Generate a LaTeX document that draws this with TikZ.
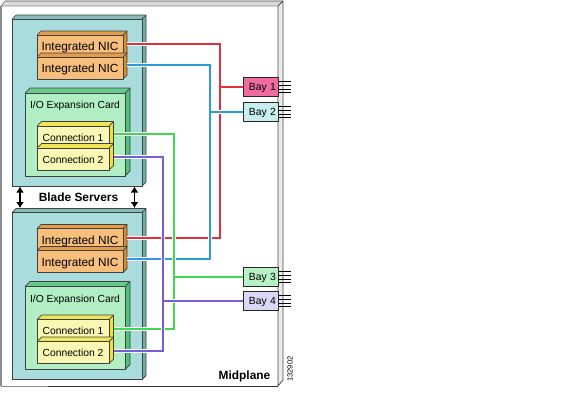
\documentclass[tikz,border=0pt]{standalone}
\usepackage{fontspec}
\setmainfont{Liberation Sans}
\usepackage{xcolor}
\usetikzlibrary{arrows.meta}
\definecolor{bladecol}{HTML}{A9DCDC}
\definecolor{bladeside}{HTML}{6FB0AE}
\definecolor{niccol}{HTML}{F7BE7C}
\definecolor{nicside}{HTML}{E08A2A}
\definecolor{cardcol}{HTML}{B2EEC4}
\definecolor{cardside}{HTML}{4DC27A}
\definecolor{conncol}{HTML}{F8F8B4}
\definecolor{connside}{HTML}{EFE03A}
\definecolor{redline}{HTML}{E0303F}
\definecolor{blueline}{HTML}{2E9AD6}
\definecolor{greenline}{HTML}{3FD84F}
\definecolor{purpleline}{HTML}{7A5CD6}
\definecolor{bayone}{HTML}{F06CA0}
\definecolor{baytwo}{HTML}{C6EEF0}
\definecolor{baythree}{HTML}{B6F0C4}
\definecolor{bayfour}{HTML}{D8D8F6}
\tikzset{
  boxline/.style={draw=black!75, line width=0.7pt, line join=round},
  wire/.style={line width=1.9pt, preaction={draw=white, line width=3.2pt}},
  bay/.style={boxline, draw=black!85, line width=0.9pt, fill=#1, minimum width=35pt, minimum height=19pt, inner sep=0pt, text height=7.5pt, text depth=0pt, text width=31pt, align=right, font=\fontsize{10.4}{10}\selectfont},
  lbl/.style={inner sep=0pt, text height=8.5pt, text depth=0pt, font=\fontsize{11.8}{12}\selectfont},
  lblsmall/.style={inner sep=0pt, text height=7.5pt, text depth=0pt, font=\fontsize{10.3}{11}\selectfont},
  heading/.style={inner sep=0pt, text height=8.5pt, text depth=0pt, font=\fontsize{11.9}{12}\selectfont\bfseries},
  updown/.style={{Latex[length=6pt,width=8pt]}-{Latex[length=6pt,width=8pt]}, line width=1.5pt},
}
% front face from (#1,#2) to (#3,#4), depth #5
\newcommand{\slab}[7]{
  \fill[#7!85!white] (#1,#2) -- ++(#5,-#5) -- (#3+#5,#2-#5) -- (#3,#2) -- cycle;
  \fill[#7] (#3,#2) -- ++(#5,-#5) -- (#3+#5,#4-#5) -- (#3,#4) -- cycle;
  \draw[boxline] (#1,#2) -- ++(#5,-#5) -- (#3+#5,#2-#5) -- (#3+#5,#4-#5) -- (#3,#4);
  \draw[boxline] (#3,#2) -- ++(#5,-#5);
  \draw[boxline, fill=#6] (#1,#2) rectangle (#3,#4);
}
\begin{document}
\begin{tikzpicture}[x=1pt, y=-1pt]
  \useasboundingbox (0,0) rectangle (576,408);
  \fill[white] (0,0) rectangle (576,408);
  % midplane
  \fill[black!8] (278,6) -- (283,1) -- (283,380) -- (278,386) -- cycle;
  \fill[black!14] (1,6) -- (5,1) -- (283,1) -- (278,6) -- cycle;
  \draw[black!70, line width=0.8pt] (5,1) -- (283,1) -- (283,380) -- (278,386) -- (278,6) -- (283,1);
  \draw[black!45, line width=0.8pt] (5,1) -- (1,6) -- (278,6);
  \draw[black!45, line width=1.6pt] (1,6) -- (1,386);
  \draw[black!45, line width=1pt] (1,386) -- (48,386);
  \draw[black!80, line width=0.9pt] (48,386) -- (278,386);
  \foreach \yshift/\blade in {0/a, 193.5/b} {
    \begin{scope}[yshift=-\yshift pt]
      \slab{12}{19}{142}{186}{4}{bladecol}{bladeside}
      \slab{37}{35}{123}{57}{4}{niccol}{nicside}
      \slab{37}{57}{123}{79}{4}{niccol}{nicside}
      \slab{25}{93}{125}{176}{5}{cardcol}{cardside}
      \slab{37}{126}{109}{148}{4.5}{conncol}{connside}
      \slab{37}{148}{109}{170}{4.5}{conncol}{connside}
      \node[lbl] (nicup\blade) at (80,46.5) {Integrated NIC};
      \node[lbl] (nicdown\blade) at (80,68.5) {Integrated NIC};
      \node[lblsmall] (card\blade) at (75,105) {I/O Expansion Card};
      \node[lblsmall] (connup\blade) at (73,137.5) {Connection 1};
      \node[lblsmall] (conndown\blade) at (73,159.5) {Connection 2};
    \end{scope}
  }
  % bays
  \node[bay=bayone] (bayA) at (260.5,87) {Bay 1};
  \node[bay=baytwo] (bayB) at (260.5,112) {Bay 2};
  \node[bay=baythree] (bayC) at (260.5,277) {Bay 3};
  \node[bay=bayfour] (bayD) at (260.5,301) {Bay 4};
  \foreach \bay in {bayA,bayB,bayC,bayD} {
    \foreach \dy in {-5.5,-2,2,5.5} {
      \draw[black, line width=0.6pt] ([yshift=\dy pt]\bay.east) -- ++(13,0);
    }
  }
  % wires
  \coordinate (redenda) at (127,44);
  \coordinate (redendb) at (127,238);
  \coordinate (blueenda) at (127,65);
  \coordinate (blueendb) at (127,259);
  \coordinate (greenenda) at (114,134);
  \coordinate (greenendb) at (114,329);
  \coordinate (purpleenda) at (114,157);
  \coordinate (purpleendb) at (114,351);
  \coordinate (redtrunk) at (220,100);
  \coordinate (bluetrunk) at (210,100);
  \coordinate (greentrunk) at (174,200);
  \coordinate (purpletrunk) at (163,200);
  \draw[wire, redline] (redenda) -| (redtrunk) |- (redendb) (bayA.west) -- (bayA.west -| redtrunk);
  \draw[wire, blueline] (blueenda) -| (bluetrunk) |- (blueendb) (bayB.west) -- (bayB.west -| bluetrunk);
  \draw[wire, greenline] (greenenda) -| (greentrunk) |- (greenendb) (bayC.west) -- (bayC.west -| greentrunk);
  \draw[wire, purpleline] (purpleenda) -| (purpletrunk) |- (purpleendb) (bayD.west) -- (bayD.west -| purpletrunk);
  % labels
  \node[heading] (blades) at (78.5,197.5) {Blade Servers};
  \coordinate (lefttop) at (20,186.5);
  \coordinate (leftbot) at (20,208);
  \coordinate (righttop) at (134.5,186.5);
  \coordinate (rightbot) at (134.5,208);
  \draw[updown] (lefttop) -- (leftbot);
  \draw[updown] (righttop) -- (rightbot);
  \node[heading] (midplane) at (244.5,375) {Midplane};
  \node[inner sep=0pt, rotate=90, font=\fontsize{7.5}{7}\selectfont] (figno) at (290,369) {132902};
\end{tikzpicture}
\end{document}
